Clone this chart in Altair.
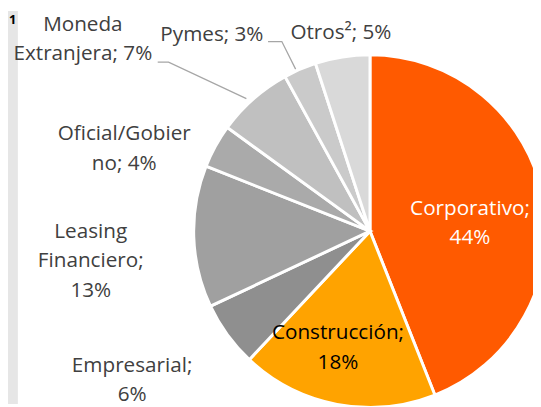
import altair as alt
import pandas as pd

categories = ["Corporativo", "Construcción", "Empresarial", "Leasing Financiero",
              "Oficial/Gobierno", "Moneda Extranjera", "Pymes", "Otros"]
values = [44, 18, 6, 13, 4, 7, 3, 5]
colors = ["#FF5A00", "#FFA300", "#8F8F8F", "#A0A0A0", "#AAAAAA", "#C0C0C0", "#CACACA", "#D9D9D9"]

label_lines = [
    ["Corporativo;", "44%"],
    ["Construcción;", "18%"],
    ["Empresarial;", "6%"],
    ["Leasing", "Financiero;", "13%"],
    ["Oficial/Gobier", "no; 4%"],
    ["Moneda", "Extranjera; 7%"],
    ["Pymes; 3%"],
    ["Otros²; 5%"],
]

# layout (pixels, chart coordinates)
CX, CY, R = 367.5, 223.5, 179
label_pos = [(469, 201), (335, 327), (126, 360), (84, 224), (118, 125), (76, 14), (207, 24), (338, 22)]
label_col = ["white", "black", "#404040", "#404040", "#404040", "#404040", "#404040", "#404040"]
LINE_H = 30

pie_df = pd.DataFrame({"cat": categories, "value": values, "idx": list(range(len(values)))})

rows = []
for i, lines in enumerate(label_lines):
    x0, y0 = label_pos[i]
    for j, t in enumerate(lines):
        rows.append({"x": x0, "y": y0 + j * LINE_H, "t": t, "c": label_col[i]})
lab_df = pd.DataFrame(rows)

leaders = pd.DataFrame([
    {"g": "m", "o": 0, "x": 152, "y": 52}, {"g": "m", "o": 1, "x": 163, "y": 52}, {"g": "m", "o": 2, "x": 242, "y": 89},
    {"g": "p", "o": 0, "x": 264, "y": 31}, {"g": "p", "o": 1, "x": 278, "y": 31}, {"g": "p", "o": 2, "x": 292, "y": 59},
])

W, H = 533, 399

strip = alt.Chart(pd.DataFrame({"a": [0]})).mark_rect(color="#E6E6E6").encode(
    x=alt.value(0), x2=alt.value(10), y=alt.value(0), y2=alt.value(H))

note = alt.Chart(pd.DataFrame({"t": ["1"]})).mark_text(
    align="left", baseline="middle", font="Open Sans", fontSize=13, fontWeight="bold", color="black"
).encode(x=alt.value(1), y=alt.value(9), text="t:N")

pie = alt.Chart(pie_df).mark_arc(outerRadius=R, stroke="white", strokeWidth=3).encode(
    theta=alt.Theta("value:Q", stack=True),
    color=alt.Color("cat:N", scale=alt.Scale(domain=categories, range=colors), legend=None),
    order=alt.Order("idx:Q"),
    x=alt.value(CX), y=alt.value(CY),
)

lines = alt.Chart(leaders).mark_line(color="#A6A6A6", strokeWidth=1.3).encode(
    x=alt.X("x:Q", scale=None), y=alt.Y("y:Q", scale=None), detail="g:N", order="o:Q")

texts = alt.Chart(lab_df).mark_text(
    align="center", baseline="middle", font="Open Sans", fontSize=21
).encode(
    x=alt.X("x:Q", scale=None), y=alt.Y("y:Q", scale=None), text="t:N",
    color=alt.Color("c:N", scale=None),
)

chart = alt.layer(strip, note, pie, lines, texts).properties(
    width=W, height=H, padding=0, autosize=alt.AutoSizeParams(type="none")
).configure_view(stroke=None)

chart.save("out.html", embed_options={"renderer": "svg", "actions": False})
